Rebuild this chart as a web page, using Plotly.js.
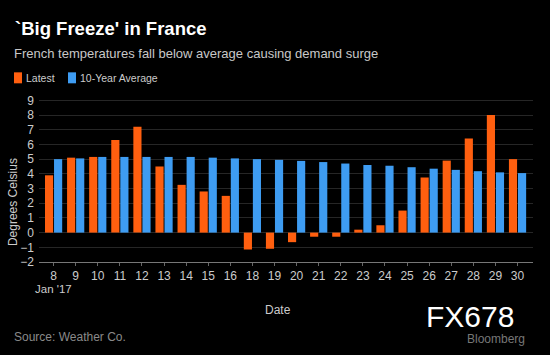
<!DOCTYPE html>
<html>
<head>
<meta charset="utf-8">
<script src="https://cdn.plot.ly/plotly-3.0.1.min.js"></script>
<style>
html,body{margin:0;padding:0;background:#000;}
#chart{width:550px;height:355px;}
</style>
</head>
<body>
<div id="chart"></div>
<script>
const dates = ["8","9","10","11","12","13","14","15","16","18","19","20","21","22","23","24","25","26","27","28","29","30"];
const latest = [3.9,5.1,5.15,6.3,7.2,4.5,3.25,2.8,2.5,-1.15,-1.1,-0.65,-0.28,-0.28,0.2,0.5,1.5,3.75,4.9,6.4,8.0,5.0];
const tenYearAvg = [5.0,5.05,5.15,5.15,5.15,5.15,5.15,5.1,5.05,5.0,4.95,4.88,4.8,4.7,4.6,4.55,4.45,4.35,4.27,4.18,4.1,4.05];
const yTicks = [-2,-1,0,1,2,3,4,5,6,7,8,9];

const FONT = "Liberation Sans, Arial, sans-serif";
const ORANGE = "#FF5F0F";
const BLUE = "#3E9CF2";

const traces = [
  {type:"bar", name:"Latest", x:dates, y:latest, marker:{color:ORANGE}},
  {type:"bar", name:"10-Year Average", x:dates, y:tenYearAvg, marker:{color:BLUE}}
];

const layout = {
  width:550, height:355,
  paper_bgcolor:"#000", plot_bgcolor:"#000",
  margin:{l:39, r:17, t:92.7, b:93},
  showlegend:false,
  barmode:"group", bargap:0.18, bargroupgap:0.1,
  font:{family:FONT, color:"#ccc", size:12},
  title:{text:"<b>`Big Freeze' in France</b>", x:15/550, xanchor:"left", y:1-29/355, yanchor:"middle",
         font:{family:FONT, size:18.5, color:"#fff"}},
  xaxis:{type:"category", range:[-0.66,21.7], showgrid:false, zeroline:false,
         showline:true, linecolor:"#777", linewidth:1,
         ticks:"outside", ticklen:3, tickcolor:"#666",
         tickfont:{family:FONT, size:12, color:"#ccc"}, fixedrange:true},
  yaxis:{range:[-2,9.5], tickvals:yTicks, showgrid:true, gridcolor:"#262626", gridwidth:1,
         zeroline:false, showline:false, ticks:"", ticklabelstandoff:4,
         tickfont:{family:FONT, size:12, color:"#ccc"}, fixedrange:true},
  shapes:[
    {type:"rect", xref:"paper", yref:"paper", x0:(14-39)/494, x1:(22-39)/494,
     y0:(262-83)/169.3, y1:(262-72)/169.3, fillcolor:ORANGE, line:{width:0}},
    {type:"rect", xref:"paper", yref:"paper", x0:(68-39)/494, x1:(76-39)/494,
     y0:(262-83)/169.3, y1:(262-72)/169.3, fillcolor:BLUE, line:{width:0}}
  ],
  annotations:[
    {text:"French temperatures fall below average causing demand surge", xref:"paper", yref:"paper",
     x:(12-39)/494, y:(262-53)/169.3, xanchor:"left", yanchor:"middle", showarrow:false,
     font:{family:FONT, size:13, color:"#c8c8c8"}},
    {text:"Latest", xref:"paper", yref:"paper", x:(24-39)/494, y:(262-77.5)/169.3,
     xanchor:"left", yanchor:"middle", showarrow:false, font:{family:FONT, size:10.5, color:"#ccc"}},
    {text:"10-Year Average", xref:"paper", yref:"paper", x:(78-39)/494, y:(262-77.5)/169.3,
     xanchor:"left", yanchor:"middle", showarrow:false, font:{family:FONT, size:10.5, color:"#ccc"}},
    {text:"Degrees Celsius", xref:"paper", yref:"paper", x:(13-39)/494, y:(262-202)/169.3,
     xanchor:"center", yanchor:"middle", textangle:-90, showarrow:false, font:{family:FONT, size:12, color:"#ccc"}},
    {text:"Jan '17", xref:"paper", yref:"paper", x:(53-39)/494, y:(262-289)/169.3,
     xanchor:"center", yanchor:"middle", showarrow:false, font:{family:FONT, size:11.5, color:"#ccc"}},
    {text:"Date", xref:"paper", yref:"paper", x:(278-39)/494, y:(262-310)/169.3,
     xanchor:"center", yanchor:"middle", showarrow:false, font:{family:FONT, size:12, color:"#ccc"}},
    {text:"Source: Weather Co.", xref:"paper", yref:"paper", x:(12-39)/494, y:(262-337)/169.3,
     xanchor:"left", yanchor:"middle", showarrow:false, font:{family:FONT, size:12, color:"#8a8a8a"}},
    {text:"Bloomberg", xref:"paper", yref:"paper", x:(527-39)/494, y:(262-339)/169.3,
     xanchor:"right", yanchor:"middle", showarrow:false, font:{family:FONT, size:12, color:"#777"}},
    {text:"FX678", xref:"paper", yref:"paper", x:(470-39)/494, y:(262-317)/169.3,
     xanchor:"center", yanchor:"middle", showarrow:false, font:{family:FONT, size:30, color:"#fff"}}
  ]
};

Plotly.newPlot("chart", traces, layout, {displayModeBar:false, staticPlot:true});
</script>
</body>
</html>
